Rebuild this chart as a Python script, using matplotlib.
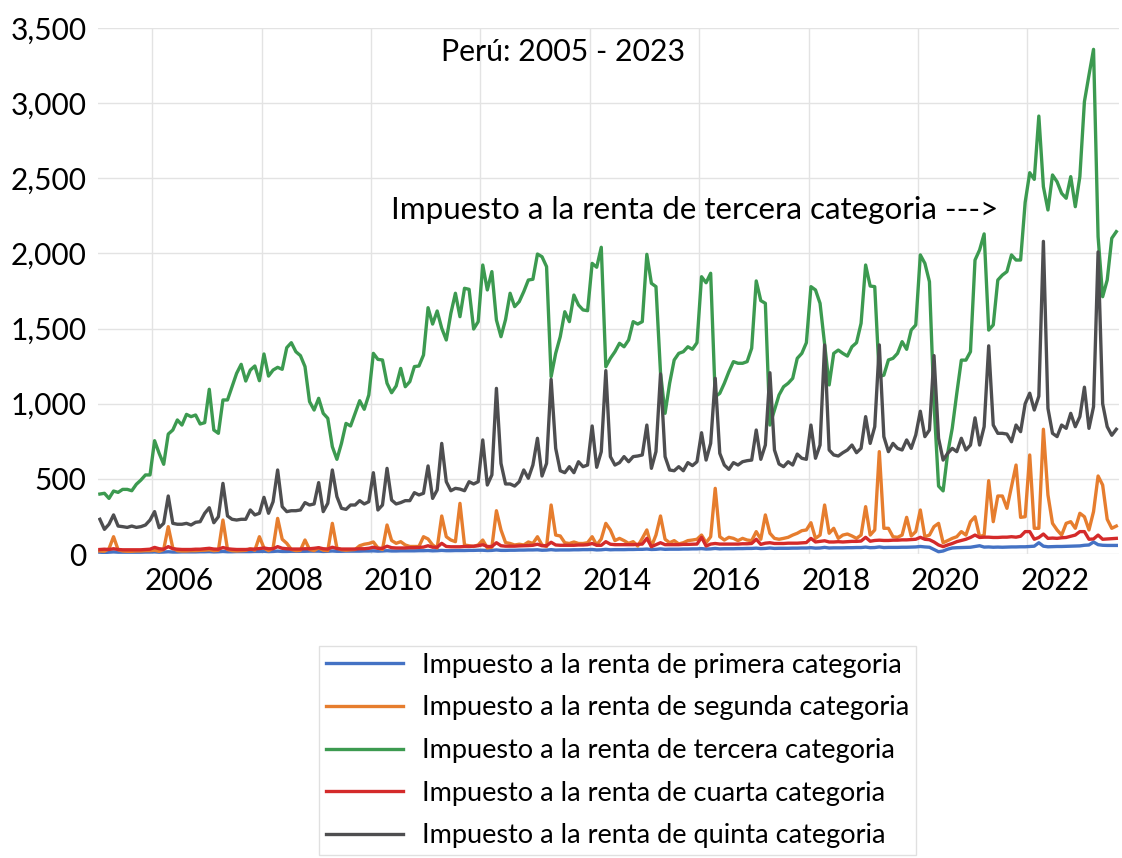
import matplotlib.pyplot as plt
from matplotlib.ticker import FuncFormatter
import numpy as np

plt.rcParams['font.family'] = ['Lato', 'DejaVu Sans']

# datos mensuales, enero 2005 - agosto 2023 (millones de soles)
start_year = 2005
tick_years = [2006, 2008, 2010, 2012, 2014, 2016, 2018, 2020, 2022]

primera = [
    12, 10, 12, 14, 12, 12, 12, 12, 12, 12, 13, 13,
    14, 12, 13, 15, 13, 13, 14, 14, 14, 14, 15, 15,
    16, 14, 15, 17, 15, 15, 16, 16, 16, 16, 17, 17,
    18, 16, 17, 19, 17, 17, 18, 18, 18, 18, 19, 19,
    19, 17, 18, 20, 18, 18, 19, 19, 19, 19, 20, 20,
    21, 19, 20, 22, 20, 20, 21, 21, 21, 21, 22, 22,
    23, 21, 22, 24, 22, 22, 23, 23, 23, 24, 24, 25,
    25, 23, 24, 27, 24, 24, 25, 25, 26, 26, 27, 27,
    28, 25, 26, 29, 26, 27, 27, 27, 28, 28, 29, 29,
    30, 27, 28, 31, 28, 29, 29, 29, 30, 30, 31, 31,
    33, 30, 31, 34, 31, 32, 32, 32, 33, 33, 34, 34,
    36, 33, 34, 37, 34, 35, 35, 35, 36, 36, 37, 37,
    39, 36, 37, 40, 37, 38, 38, 38, 39, 39, 40, 40,
    42, 39, 40, 44, 40, 41, 41, 41, 42, 42, 43, 43,
    46, 42, 43, 47, 43, 44, 44, 44, 45, 45, 46, 47,
    50, 47, 45, 30, 15, 20, 32, 40, 42, 43, 44, 45,
    50, 55, 46, 47, 45, 46, 45, 46, 47, 47, 48, 48,
    50, 52, 75, 52, 48, 49, 50, 50, 51, 52, 53, 54,
    58, 60, 80, 62, 58, 57, 57, 57,
]

segunda = [
    20, 18, 35, 115, 28, 20, 18, 18, 20, 20, 22, 22,
    25, 18, 30, 182, 40, 22, 20, 20, 22, 22, 24, 25,
    28, 22, 25, 226, 30, 22, 20, 22, 24, 35, 25, 115,
    40, 22, 40, 237, 98, 71, 30, 22, 25, 93, 30, 22,
    40, 25, 22, 204, 40, 28, 25, 28, 30, 55, 65, 70,
    80, 40, 30, 193, 90, 71, 82, 60, 50, 50, 50, 115,
    100, 60, 40, 253, 115, 93, 82, 337, 60, 55, 50, 60,
    93, 40, 45, 288, 160, 76, 70, 60, 65, 60, 80, 70,
    115, 60, 50, 326, 126, 120, 75, 70, 80, 70, 70, 75,
    115, 60, 100, 204, 160, 89, 104, 89, 71, 82, 53, 104,
    160, 49, 126, 253, 98, 75, 89, 67, 75, 89, 93, 98,
    126, 75, 115, 437, 115, 93, 111, 104, 89, 104, 93, 89,
    149, 98, 260, 138, 104, 98, 104, 111, 126, 138, 155, 160,
    208, 104, 126, 326, 138, 171, 104, 126, 133, 120, 104, 126,
    315, 126, 160, 681, 171, 171, 115, 111, 126, 244, 120, 149,
    293, 115, 126, 182, 204, 75, 89, 104, 115, 149, 126, 215,
    248, 115, 126, 488, 215, 386, 386, 304, 448, 592, 244, 248,
    659, 171, 171, 830, 393, 204, 160, 126, 204, 215, 171, 271,
    248, 160, 282, 519, 459, 231, 171, 186,
]

tercera = [
    399, 404, 370, 419, 410, 430, 430, 421, 464, 492, 526, 526,
    754, 670, 597, 798, 825, 892, 858, 929, 914, 925, 865, 874,
    1096, 825, 803, 1025, 1025, 1113, 1202, 1262, 1151, 1224, 1251, 1153,
    1331, 1184, 1224, 1242, 1229, 1373, 1406, 1346, 1320, 1247, 1014, 958,
    1036, 936, 903, 714, 630, 736, 869, 852, 936, 1020, 963, 1058,
    1335, 1295, 1291, 1136, 1073, 1118, 1235, 1113, 1147, 1247, 1251, 1324,
    1639, 1530, 1617, 1502, 1424, 1601, 1735, 1579, 1768, 1761, 1497, 1546,
    1923, 1757, 1879, 1557, 1446, 1560, 1735, 1646, 1679, 1746, 1823, 1828,
    1996, 1978, 1912, 1180, 1335, 1446, 1612, 1546, 1723, 1657, 1624, 1619,
    1934, 1908, 2041, 1246, 1302, 1346, 1402, 1379, 1424, 1546, 1530, 1546,
    1994, 1801, 1779, 1206, 936, 1136, 1291, 1335, 1346, 1379, 1362, 1406,
    1845, 1805, 1868, 1047, 1069, 1136, 1213, 1280, 1269, 1269, 1280, 1369,
    1817, 1686, 1668, 858, 958, 1058, 1113, 1136, 1169, 1302, 1335, 1406,
    1779, 1757, 1668, 1395, 1125, 1335, 1357, 1335, 1317, 1379, 1406, 1535,
    1923, 1783, 1779, 1180, 1190, 1291, 1302, 1335, 1413, 1362, 1490, 1524,
    1990, 1934, 1812, 1000, 452, 420, 670, 836, 1069, 1290, 1290, 1346,
    1956, 2023, 2130, 1490, 1524, 1823, 1856, 1879, 1990, 1956, 1956, 2340,
    2537, 2493, 2914, 2444, 2289, 2522, 2477, 2400, 2367, 2511, 2311, 2511,
    3010, 3187, 3358, 2111, 1712, 1823, 2101, 2145,
]

cuarta = [
    30, 32, 30, 35, 30, 28, 28, 28, 28, 28, 30, 32,
    44, 35, 32, 49, 35, 32, 30, 30, 30, 32, 32, 35,
    38, 33, 32, 43, 35, 32, 30, 30, 30, 32, 33, 36,
    40, 35, 35, 49, 38, 35, 33, 33, 33, 35, 35, 38,
    42, 35, 33, 45, 36, 33, 33, 33, 33, 35, 35, 38,
    45, 38, 38, 52, 42, 40, 40, 40, 42, 42, 44, 46,
    55, 45, 45, 71, 50, 48, 48, 48, 50, 50, 52, 55,
    62, 50, 50, 75, 55, 52, 52, 52, 54, 55, 56, 58,
    65, 55, 55, 78, 60, 58, 58, 58, 58, 60, 60, 62,
    70, 58, 58, 82, 65, 62, 62, 62, 62, 62, 64, 66,
    104, 49, 62, 75, 62, 62, 62, 62, 64, 64, 65, 66,
    111, 53, 66, 70, 66, 66, 66, 66, 66, 68, 68, 70,
    98, 64, 72, 75, 70, 70, 70, 72, 72, 72, 74, 76,
    104, 80, 84, 88, 80, 80, 82, 80, 82, 84, 84, 86,
    111, 85, 90, 92, 90, 90, 92, 92, 94, 94, 96, 98,
    111, 98, 95, 80, 60, 49, 60, 70, 82, 90, 98, 110,
    126, 110, 112, 112, 110, 110, 112, 112, 115, 112, 118, 149,
    149, 98, 110, 133, 104, 106, 104, 108, 110, 118, 126, 149,
    149, 98, 100, 126, 98, 100, 102, 104,
]

quinta = [
    231, 164, 198, 260, 186, 182, 177, 186, 177, 182, 193, 226,
    282, 175, 204, 386, 204, 198, 198, 204, 193, 211, 215, 271,
    308, 208, 248, 470, 253, 231, 226, 231, 231, 293, 260, 271,
    377, 271, 348, 559, 315, 282, 288, 288, 293, 342, 326, 333,
    475, 282, 337, 559, 382, 304, 297, 326, 326, 355, 333, 348,
    541, 293, 326, 570, 359, 333, 342, 355, 355, 408, 393, 404,
    586, 370, 426, 736, 481, 421, 437, 432, 421, 481, 466, 481,
    759, 459, 526, 1102, 603, 466, 466, 452, 481, 559, 504, 592,
    770, 519, 603, 1162, 703, 554, 541, 581, 541, 614, 581, 592,
    852, 577, 681, 1220, 648, 592, 608, 648, 614, 648, 652, 659,
    858, 570, 681, 1198, 648, 559, 554, 581, 554, 608, 588, 614,
    807, 625, 736, 1169, 670, 592, 563, 608, 592, 614, 621, 625,
    825, 630, 725, 1206, 692, 599, 581, 614, 592, 665, 637, 630,
    858, 637, 725, 1391, 692, 659, 652, 674, 692, 725, 674, 703,
    914, 736, 847, 1391, 781, 681, 736, 703, 692, 759, 703, 792,
    950, 781, 825, 1320, 770, 625, 670, 703, 681, 770, 692, 725,
    906, 725, 847, 1385, 858, 803, 803, 798, 747, 858, 814, 1000,
    1070, 958, 1050, 2080, 969, 803, 781, 858, 836, 936, 847, 914,
    1110, 836, 980, 2010, 1000, 847, 790, 830,
]

labels = [
    "Impuesto a la renta de primera categoria",
    "Impuesto a la renta de segunda categoria",
    "Impuesto a la renta de tercera categoria",
    "Impuesto a la renta de cuarta categoria",
    "Impuesto a la renta de quinta categoria",
]
colors = ["#4472C4", "#E67D2E", "#3C9A50", "#D42A2A", "#4E4E50"]

n = len(tercera)
x = np.arange(n)

fig = plt.figure(figsize=(11.22, 8.58), dpi=100)
ax = fig.add_axes([97.6 / 1122, 1 - 554 / 858, 1021 / 1122, 526 / 858])

for serie, lab, col in zip([primera, segunda, tercera, cuarta, quinta], labels, colors):
    ax.plot(x, serie, color=col, lw=2.4, label=lab, solid_joinstyle='round')

ax.set_xlim(-0.5, n - 0.5)
ax.set_ylim(0, 3500)
ax.set_yticks(range(0, 3501, 500))
ax.yaxis.set_major_formatter(FuncFormatter(lambda v, p: f"{v:,.0f}"))

# etiquetas centradas en cada año, lineas de grilla al inicio del año
ax.set_xticks([(y - start_year) * 12 + 5.5 for y in tick_years])
ax.set_xticklabels([str(y) for y in tick_years])
ax.set_xticks([(y - start_year) * 12 - 0.5 for y in tick_years], minor=True)

ax.tick_params(axis='both', which='both', length=0, labelsize=21.5)
ax.tick_params(axis='x', pad=9)
ax.tick_params(axis='y', pad=8)
ax.grid(axis='y', which='major', color='#e3e3e3', lw=1)
ax.grid(axis='x', which='minor', color='#e3e3e3', lw=1)
ax.set_axisbelow(True)
for s in ax.spines.values():
    s.set_visible(False)

fig.text(563 / 1122, 1 - 52 / 858, "Perú: 2005 - 2023", fontsize=21.8,
         ha='center', va='center')
fig.text(695 / 1122, 1 - 210 / 858, "Impuesto a la renta de tercera categoria --->",
         fontsize=22.6, ha='center', va='center')

leg = fig.legend(loc='upper center', bbox_to_anchor=(617.5 / 1122, 1 - 646 / 858),
                 fontsize=19.5, frameon=True, fancybox=False, edgecolor='#d9d9d9',
                 handlelength=2.85, handletextpad=0.67, labelspacing=0.65,
                 borderpad=0.25, borderaxespad=0)
leg.get_frame().set_linewidth(1.0)

fig.savefig("out.png", dpi=100)
